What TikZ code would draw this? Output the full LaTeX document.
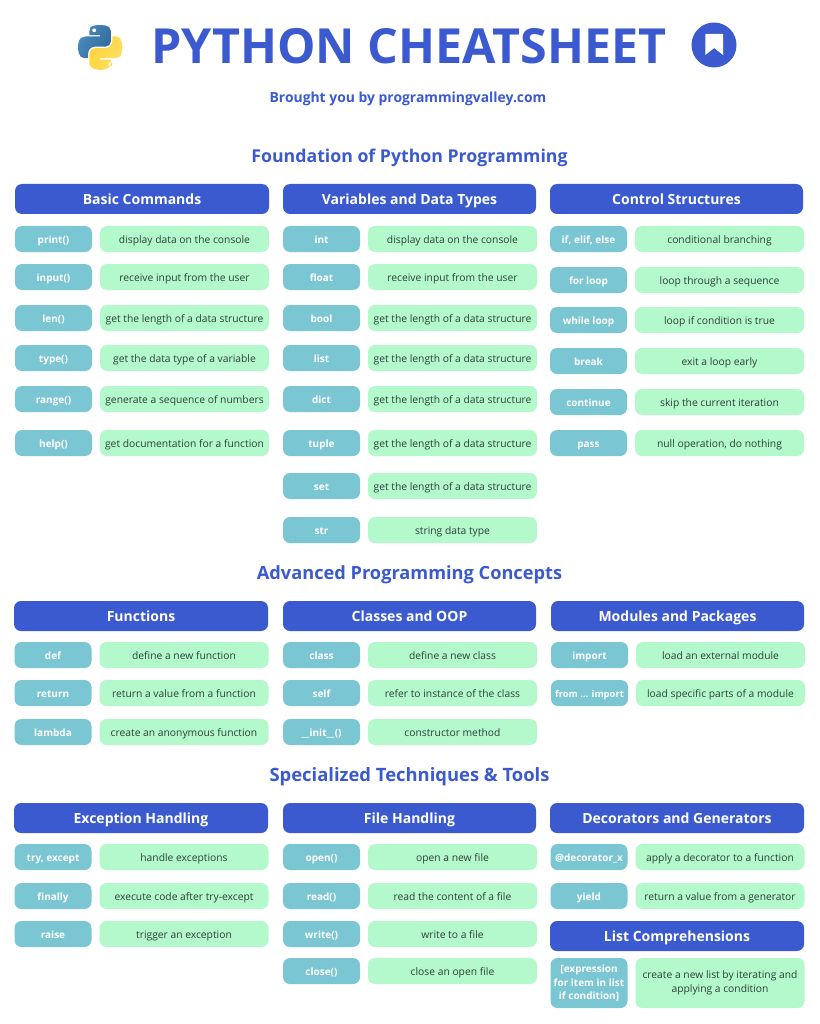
\documentclass[tikz,border=0pt]{standalone}
\usepackage{fontspec}
\setmainfont{Open Sans}
\usetikzlibrary{svg.path}
\definecolor{brand}{HTML}{3B5AD0}
\definecolor{keyc}{HTML}{7AC6D3}
\definecolor{valc}{HTML}{B3F9CB}
\definecolor{valt}{HTML}{2B4038}
\definecolor{pyblueA}{RGB}{74,139,190}
\definecolor{pyblueB}{RGB}{48,105,152}
\definecolor{pyyelA}{RGB}{255,212,59}
\definecolor{pyyelB}{RGB}{255,224,100}
\tikzset{
  x=1pt,y=-1pt,
  head/.style={fill=brand,text=white,rounded corners=7pt,inner sep=0pt,minimum height=30pt,text height=11pt,text depth=-0.5pt,font=\fontsize{14}{16}\selectfont\bfseries},
  keybox/.style={fill=keyc,text=white,rounded corners=7pt,inner sep=0pt,minimum height=26pt,minimum width=77pt,align=center,font=\fontsize{10}{13.4}\selectfont\bfseries},
  valbox/.style={fill=valc,text=valt,rounded corners=7pt,inner sep=0pt,minimum height=26pt,minimum width=169pt,align=center,font=\fontsize{10.3}{13.8}\selectfont},
  oneline/.style={text height=8.5pt,text depth=-2.5pt},
  section/.style={text=brand,inner sep=0pt,text height=13pt,text depth=0pt,font=\fontsize{#1}{20}\selectfont\bfseries}
}
\newcommand{\hd}[5]{\node[head,minimum width=#3pt] (#1) at (#2,#4) {#5};}
\newcommand{\kv}[5]{%
  \node[keybox,oneline] (k#1) at ({#2+38.5},#3) {#4};
  \node[valbox,oneline] (v#1) at ({#2+169.5},#3) {#5};}
\begin{document}
\begin{tikzpicture}
\useasboundingbox (0,0) rectangle (819,1024);
\fill[white] (0,0) rectangle (819,1024);
% python logo
\begin{scope}[shift={(78,25)},yscale=-1,scale=0.4]
\shade[even odd rule,left color=pyblueA,right color=pyblueB,shading angle=60]
 svg "M 54.918785,0.00091927 C 50.335132,0.02221727 45.957846,0.41313697 42.106285,1.0946693 30.760069,3.0991731 28.700036,7.2947714 28.700035,15.032169 v 10.21875 h 26.8125 v 3.40625 h -26.8125 -10.0625 c -7.792459,0 -14.6157588,4.683717 -16.7499998,13.59375 -2.46181998,10.212966 -2.57101508,16.586023 0,27.25 1.9059283,7.937852 6.4575432,13.593748 14.2499998,13.59375 h 9.21875 v -12.25 c 0,-8.849902 7.657144,-16.656248 16.75,-16.65625 h 26.78125 c 7.454951,0 13.406253,-6.138164 13.40625,-13.625 v -25.53125 c 0,-7.2663343 -6.12998,-12.7247771 -13.40625,-13.9374997 C 64.281548,0.32794397 59.502438,-0.02037903 54.918785,0.00091927 Z m -14.5,8.21875012 c 2.769547,0 5.03125,2.2986456 5.03125,5.1249996 -0.000002,2.816336 -2.261703,5.09375 -5.03125,5.09375 -2.779476,-0.000001 -5.03125,-2.277415 -5.03125,-5.09375 -0.000001,-2.826353 2.251774,-5.1249996 5.03125,-5.1249996 Z";
\shade[even odd rule,left color=pyyelA,right color=pyyelB,shading angle=60]
 svg "M 85.637535,28.657169 v 11.90625 c 0,9.230755 -7.825895,16.999999 -16.75,17 h -26.78125 c -7.335833,0 -13.406249,6.278483 -13.40625,13.625 v 25.531247 c 0,7.266344 6.318588,11.540324 13.40625,13.625004 8.487331,2.49561 16.626237,2.94663 26.78125,0 6.750155,-1.95439 13.406253,-5.88761 13.40625,-13.625004 V 86.500919 h -26.78125 v -3.40625 h 26.78125 13.406254 c 7.792461,0 10.696251,-5.421804 13.406241,-13.59375 2.79933,-8.412828 2.74022,-16.503253 0,-27.25 -1.92578,-7.737163 -5.60387,-13.59375 -13.406241,-13.59375 Z m -15.0625,64.65625 c 2.779478,0.000003 5.03125,2.277417 5.03125,5.093747 -0.000002,2.826354 -2.261700,5.125004 -5.03125,5.125004 -2.76955,0 -5.03125,-2.29865 -5.03125,-5.125004 0.000002,-2.81633 2.2617,-5.093747 5.03125,-5.093747 Z";
\end{scope}
% title
\node[text=brand,inner sep=0pt,text height=34pt,text depth=0pt,font=\fontsize{48.4}{50}\selectfont\bfseries] (title) at (409,46.5) {PYTHON CHEATSHEET};
\node[text=brand,inner sep=0pt,text height=10pt,text depth=0pt,font=\fontsize{13.9}{16}\selectfont\bfseries] (sub) at (408,97.5) {Brought you by programmingvalley.com};
% bookmark
\fill[brand] (714,45) circle (22.5);
\fill[white] (705.3,34) -- (723,34) -- (723,55) -- (714.2,48) -- (705.3,55) -- cycle;
% sections
\node[section=17.7] (s1) at (409.5,156) {Foundation of Python Programming};
\node[section=18.2] (s2) at (409.5,572.5) {Advanced Programming Concepts};
\node[section=18.4] (s3) at (409.5,774.5) {Specialized Techniques \& Tools};
% section 1
\hd{h11}{142}{254}{199}{Basic Commands}
\hd{h12}{409.5}{253}{199}{Variables and Data Types}
\hd{h13}{676.5}{253}{199}{Control Structures}
\kv{a1}{15}{239}{print()}{display data on the console}
\kv{a2}{15}{277}{input()}{receive input from the user}
\kv{a3}{15}{318}{len()}{get the length of a data structure}
\kv{a4}{15}{358}{type()}{get the data type of a variable}
\kv{a5}{15}{399}{range()}{generate a sequence of numbers}
\kv{a6}{15}{443}{help()}{get documentation for a function}
\kv{b1}{283}{239}{int}{display data on the console}
\kv{b2}{283}{277}{float}{receive input from the user}
\kv{b3}{283}{318}{bool}{get the length of a data structure}
\kv{b4}{283}{358}{list}{get the length of a data structure}
\kv{b5}{283}{399}{dict}{get the length of a data structure}
\kv{b6}{283}{443}{tuple}{get the length of a data structure}
\kv{b7}{283}{486}{set}{get the length of a data structure}
\kv{b8}{283}{530}{str}{string data type}
\kv{c1}{550}{239}{if, elif, else}{conditional branching}
\kv{c2}{550}{280}{for loop}{loop through a sequence}
\kv{c3}{550}{320}{while loop}{loop if condition is true}
\kv{c4}{550}{361}{break}{exit a loop early}
\kv{c5}{550}{402}{continue}{skip the current iteration}
\kv{c6}{550}{443}{pass}{null operation, do nothing}
% section 2
\hd{h21}{141}{254}{616}{Functions}
\hd{h22}{409.5}{253}{616}{Classes and OOP}
\hd{h23}{677.5}{253}{616}{Modules and Packages}
\kv{d1}{14.5}{655}{def}{define a new function}
\kv{d2}{14.5}{693}{return}{return a value from a function}
\kv{d3}{14.5}{732}{lambda}{create an anonymous function}
\kv{e1}{283}{655}{class}{define a new class}
\kv{e2}{283}{693}{self}{refer to instance of the class}
\kv{e3}{283}{732}{\_\_init\_\_()}{constructor method}
\kv{f1}{551}{655}{import}{load an external module}
\kv{f2}{551}{693}{\fontsize{9.4}{13}\selectfont from ... import}{load specific parts of a module}
% section 3
\hd{h31}{141}{254}{818}{Exception Handling}
\hd{h32}{409.5}{253}{818}{File Handling}
\hd{h33}{677}{254}{818}{Decorators and Generators}
\kv{g1}{14.5}{857}{try, except}{handle exceptions}
\kv{g2}{14.5}{896}{finally}{execute code after try-except}
\kv{g3}{14.5}{934}{raise}{trigger an exception}
\kv{i1}{283}{857}{open()}{open a new file}
\kv{i2}{283}{896}{read()}{read the content of a file}
\kv{i3}{283}{934}{write()}{write to a file}
\kv{i4}{283}{971}{close()}{close an open file}
\kv{j1}{550.5}{857}{@decorator\_x}{apply a decorator to a function}
\kv{j2}{550.5}{896}{yield}{return a value from a generator}
\hd{h34}{677}{254}{936}{List Comprehensions}
\node[keybox,minimum height=50pt] (kl) at (589,983) {[expression\\for item in list\\if condition]};
\node[valbox,minimum height=50pt] (vl) at (720,983) {create a new list by iterating and\\applying a condition};
\end{tikzpicture}
\end{document}
